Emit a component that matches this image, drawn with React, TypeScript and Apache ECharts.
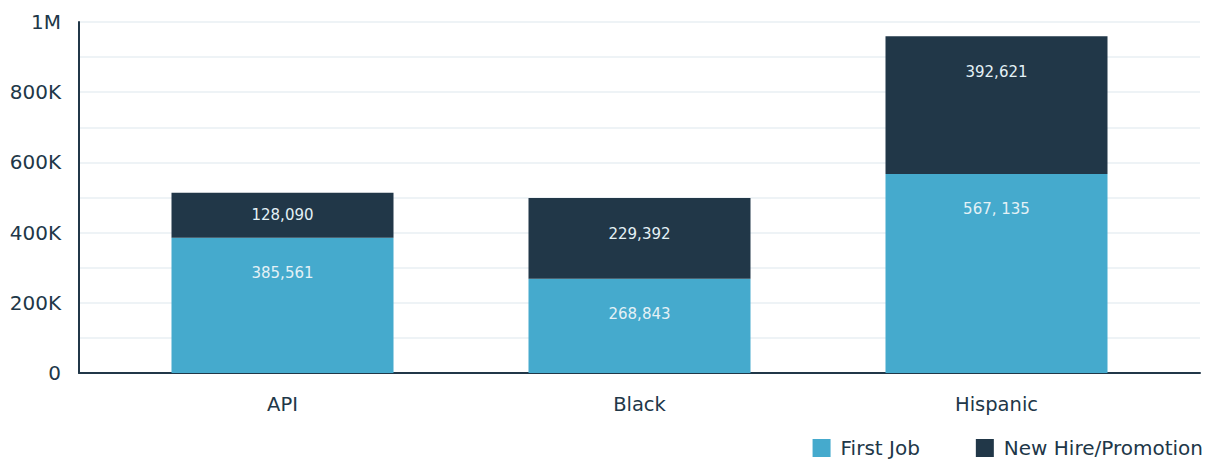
import React, { useEffect, useRef } from "react";
import * as echarts from "echarts";

const categories = ["API", "Black", "Hispanic"];
const firstJob = [385561, 268843, 567135];
const newHire = [128090, 229392, 392621];
const firstJobLabels = ["385,561", "268,843", "567, 135"];
const newHireLabels = ["128,090", "229,392", "392,621"];
const seriesNames = ["First Job", "New Hire/Promotion"];

const FONT = "DejaVu Sans";
const DARK = "#213748";
const LIGHT = "#45aacd";

export default function App() {
  const ref = useRef<HTMLDivElement>(null);
  useEffect(() => {
    if (!ref.current) return;
    const chart = echarts.init(ref.current, undefined, { renderer: "svg" });
    const labelBase = {
      show: true,
      color: "#e4f1f6",
      fontSize: 15,
      fontFamily: FONT,
    };
    const mk = (vals: number[], labels: string[], small: (v: number) => boolean) =>
      vals.map((v, i) => ({
        value: v,
        label: small(v)
          ? { ...labelBase, position: "inside", formatter: labels[i] }
          : { ...labelBase, position: "insideTop", distance: 28, formatter: labels[i] },
      }));
    chart.setOption({
      animation: false,
      textStyle: { fontFamily: FONT },
      grid: [
        { left: 79, right: 11, top: 22, bottom: 87, containLabel: false },
        { left: 104, right: 36, top: 22, bottom: 87, containLabel: false },
      ],
      legend: {
        data: seriesNames,
        right: 8,
        top: 438,
        padding: 0,
        itemWidth: 18,
        itemHeight: 18,
        itemGap: 56,
        icon: "rect",
        textStyle: {
          fontSize: 20,
          lineHeight: 20,
          color: DARK,
          fontFamily: FONT,
          padding: [0, 0, 0, 5],
        },
      },
      xAxis: [
        {
          type: "value",
          gridIndex: 0,
          min: 0,
          max: 1,
          axisLine: { show: true, onZero: false, lineStyle: { color: DARK, width: 2 } },
          axisTick: { show: false },
          axisLabel: { show: false },
          splitLine: { show: false },
        },
        {
          type: "category",
          gridIndex: 1,
          data: categories,
          axisLine: { show: false },
          axisTick: { show: false },
          axisLabel: { fontSize: 19.5, color: DARK, margin: 21, fontFamily: FONT },
        },
      ],
      yAxis: [
        {
          type: "value",
          gridIndex: 0,
          min: 0,
          max: 1000000,
          interval: 100000,
          axisLine: { show: true, lineStyle: { color: DARK, width: 2 } },
          axisTick: { show: false },
          splitLine: { show: true, lineStyle: { color: "#e9eff3", width: 1.5 } },
          axisLabel: {
            fontSize: 20,
            color: DARK,
            margin: 18,
            fontFamily: FONT,
            formatter: (v: number) => {
              if (v % 200000 !== 0) return "";
              if (v === 0) return "0";
              if (v >= 1000000) return v / 1000000 + "M";
              return v / 1000 + "K";
            },
          },
        },
        {
          type: "value",
          gridIndex: 1,
          min: 0,
          max: 1000000,
          interval: 100000,
          show: false,
        },
      ],
      series: [
        {
          name: seriesNames[0],
          type: "bar",
          xAxisIndex: 1,
          yAxisIndex: 1,
          stack: "total",
          barWidth: 222,
          itemStyle: { color: LIGHT },
          data: mk(firstJob, firstJobLabels, () => false),
        },
        {
          name: seriesNames[1],
          type: "bar",
          xAxisIndex: 1,
          yAxisIndex: 1,
          stack: "total",
          barWidth: 222,
          itemStyle: { color: DARK },
          data: mk(newHire, newHireLabels, (v) => v < 150000),
        },
      ],
    });
    return () => chart.dispose();
  }, []);
  return (
    <div
      ref={ref}
      style={{ position: "fixed", left: 0, top: 0, width: 1211, height: 460, background: "#fff" }}
    />
  );
}
